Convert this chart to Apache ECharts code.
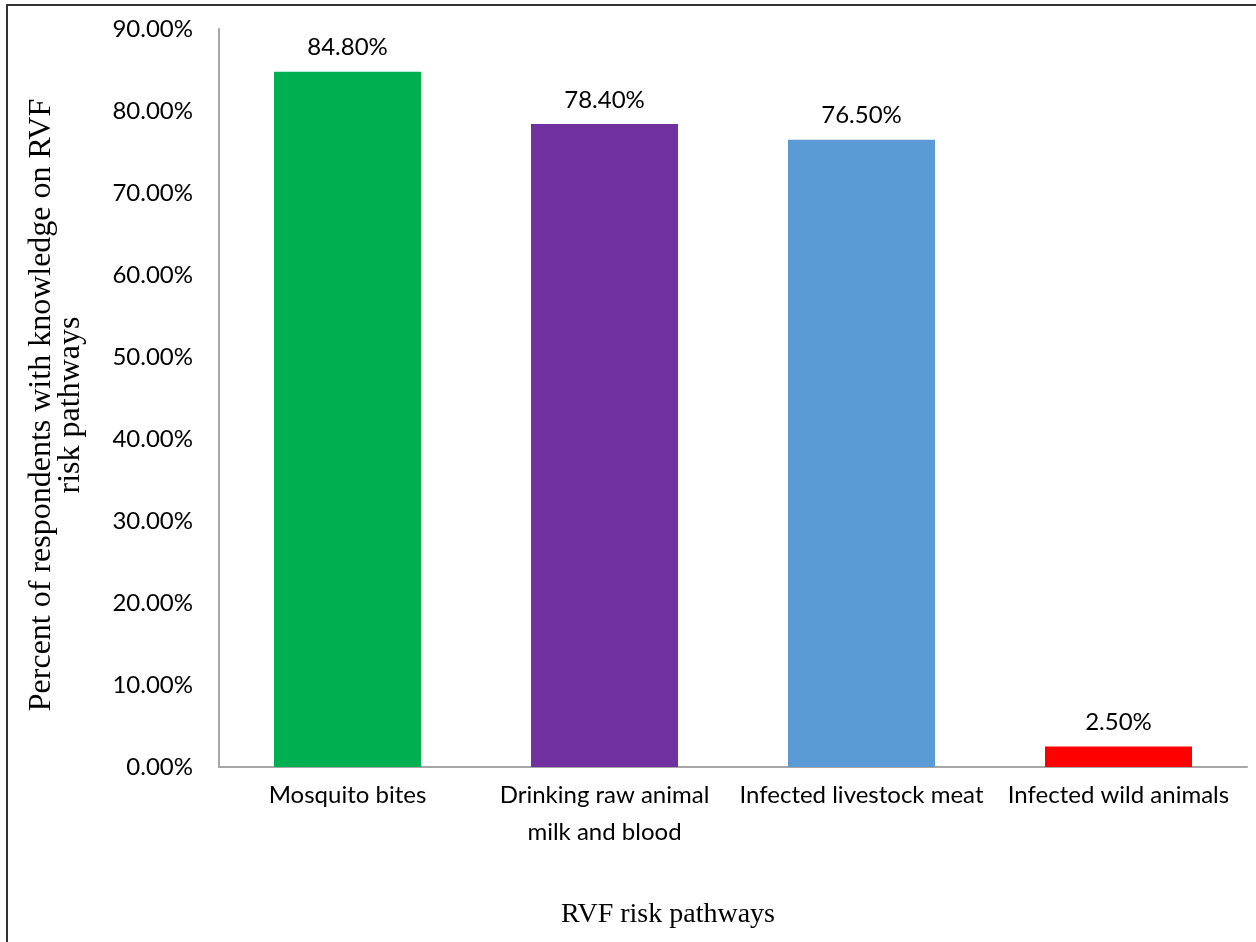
<!DOCTYPE html>
<html><head><meta charset="utf-8">
<script src="https://cdn.jsdelivr.net/npm/echarts@6/dist/echarts.min.js"></script>
<style>
html,body{margin:0;padding:0;background:#fff;overflow:hidden}
#frame{position:absolute;left:6px;top:4px;width:1300px;height:1000px;border:2px solid #333;box-sizing:border-box}
#c{position:absolute;left:0;top:0;width:1256px;height:942px}
</style></head><body>
<div id="frame"></div>
<div id="c"></div>
<script>
const categories = ['Mosquito bites', 'Drinking raw animal\nmilk and blood', 'Infected livestock meat', 'Infected wild animals'];
const values = [84.8, 78.4, 76.5, 2.5];
const colors = ['#00B050', '#7030A0', '#5B9BD5', '#FF0000'];
const yTitleLines = ['Percent of respondents with knowledge on RVF', 'risk pathways'];
const xTitle = 'RVF risk pathways';

const chart = echarts.init(document.getElementById('c'));
const sans = 'Lato, "Open Sans", sans-serif';
const serif = '"Liberation Serif", serif';
chart.setOption({
  animation: false,
  grid: {left: 219, right: 9, top: 29, bottom: 175},
  xAxis: {
    type: 'category', data: categories,
    axisLine: {lineStyle: {color: '#A6A6A6', width: 2}},
    axisTick: {show: false},
    axisLabel: {color: '#000', fontSize: 24, fontFamily: sans, margin: 10, lineHeight: 37, interval: 0}
  },
  yAxis: {
    type: 'value', min: 0, max: 90, interval: 10,
    axisLine: {show: true, lineStyle: {color: '#A6A6A6', width: 2}},
    axisTick: {show: false},
    splitLine: {show: false},
    axisLabel: {color: '#000', fontSize: 24, fontFamily: sans, margin: 26, formatter: v => v.toFixed(2) + '%'}
  },
  graphic: [
    {type: 'text', x: 42, y: 405, rotation: Math.PI / 2,
      style: {text: yTitleLines[0], fill: '#000', fontSize: 32, fontFamily: serif, align: 'center', verticalAlign: 'middle'}},
    {type: 'text', x: 71, y: 405, rotation: Math.PI / 2,
      style: {text: yTitleLines[1], fill: '#000', fontSize: 32, fontFamily: serif, align: 'center', verticalAlign: 'middle'}},
    {type: 'text', x: 668, y: 915,
      style: {text: xTitle, fill: '#000', fontSize: 28, fontFamily: serif, align: 'center', verticalAlign: 'middle'}}
  ],
  series: [{
    type: 'bar', barWidth: 147,
    data: values.map((v, i) => ({value: v, itemStyle: {color: colors[i]}})),
    label: {show: true, position: 'top', distance: 12, color: '#000', fontSize: 24, fontFamily: sans,
      formatter: p => p.value.toFixed(2) + '%'}
  }]
});
</script>
</body></html>
